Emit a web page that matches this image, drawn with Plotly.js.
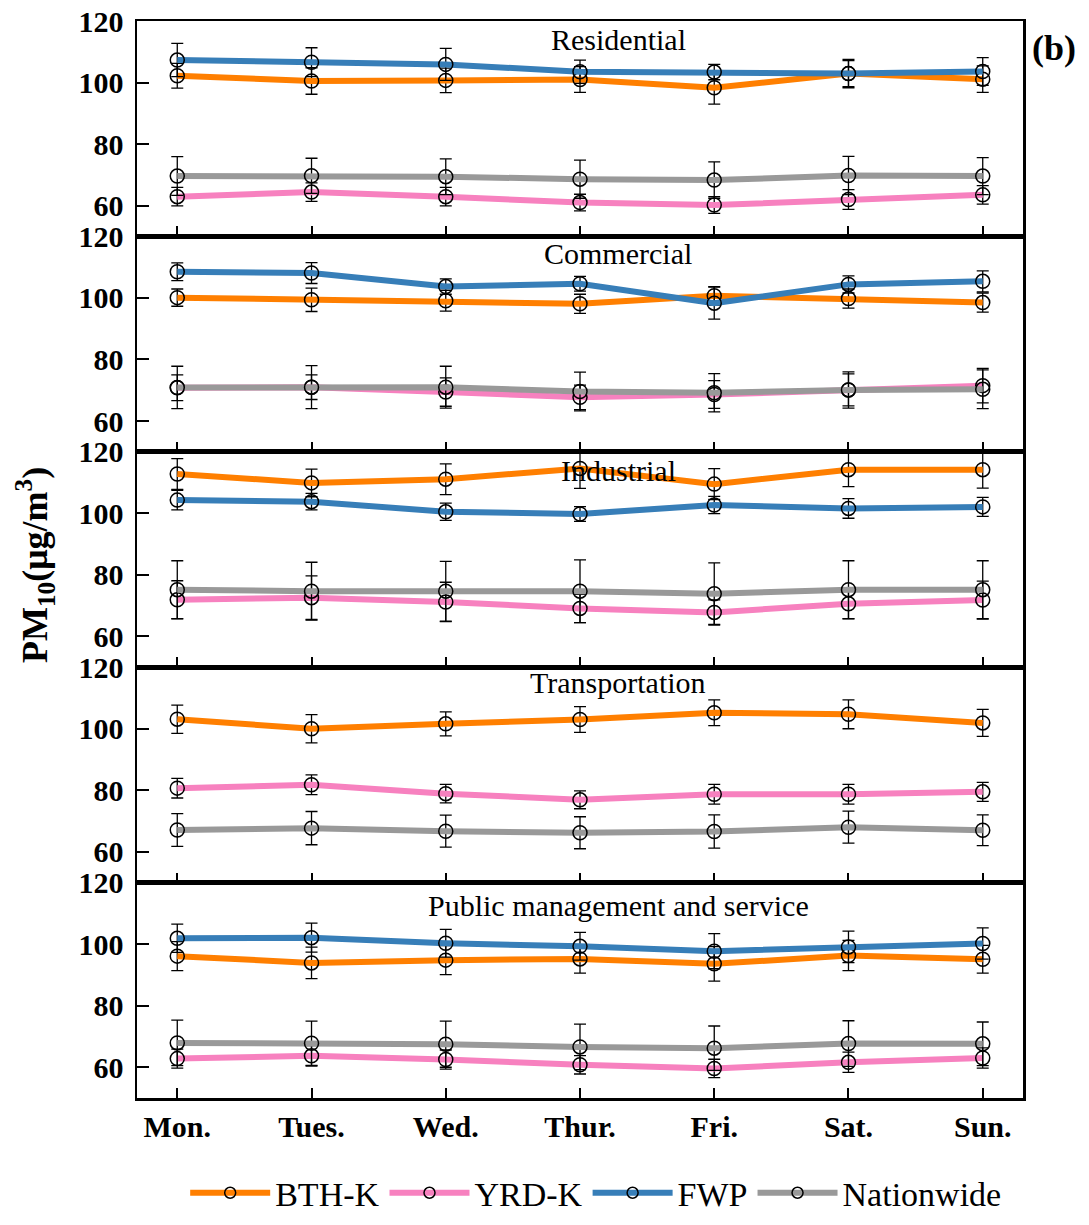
<!DOCTYPE html>
<html>
<head>
<meta charset="utf-8">
<script src="https://cdn.plot.ly/plotly-3.0.1.min.js"></script>
<style>html,body{margin:0;padding:0;background:#fff;}#chart{width:1089px;height:1225px;}</style>
</head>
<body>
<div id="chart"></div>
<script>
const days = ["Mon.", "Tues.", "Wed.", "Thur.", "Fri.", "Sat.", "Sun."];
const panelNames = ["Residential", "Commercial", "Industrial", "Transportation", "Public management and service"];
const seriesNames = ["BTH-K", "YRD-K", "FWP", "Nationwide"];

// Residential
const BTH_res = [102.2, 100.5, 100.7, 101.0, 98.3, 102.9, 101.1];
const BTH_res_err = [4.0, 4.3, 4.0, 4.2, 5.3, 4.6, 4.3];
const YRD_res = [62.9, 64.4, 62.9, 61.0, 60.2, 62.0, 63.5];
const YRD_res_err = [3.0, 3.0, 3.0, 2.7, 2.7, 3.2, 3.0];
const FWP_res = [107.3, 106.6, 105.9, 103.5, 103.4, 102.9, 103.6];
const FWP_res_err = [5.4, 4.7, 5.2, 3.8, 2.5, 4.2, 4.5];
const NAT_res = [69.6, 69.7, 69.4, 68.6, 68.3, 69.8, 69.6];
const NAT_res_err = [6.3, 5.7, 5.8, 6.2, 5.9, 6.2, 6.0];

// Commercial
const BTH_com = [100.1, 99.4, 99.1, 98.1, 100.7, 99.8, 98.5];
const BTH_com_err = [2.8, 3.8, 3.4, 3.1, 3.0, 3.1, 3.1];
const YRD_com = [70.8, 71.0, 69.4, 67.7, 68.6, 70.1, 71.5];
const YRD_com_err = [4.2, 4.0, 4.6, 4.0, 4.5, 5.2, 5.6];
const FWP_com = [108.5, 108.1, 103.7, 104.6, 98.3, 104.4, 105.4];
const FWP_com_err = [2.9, 3.4, 2.5, 2.4, 5.2, 2.8, 3.4];
const NAT_com = [70.9, 71.0, 71.0, 69.6, 69.2, 70.1, 70.3];
const NAT_com_err = [6.9, 7.0, 6.8, 6.3, 6.2, 5.9, 6.3];

// Industrial
const BTH_ind = [112.8, 109.9, 111.1, 114.6, 109.5, 114.2, 114.2];
const BTH_ind_err = [5.0, 4.5, 5.0, 6.5, 5.0, 5.5, 6.0];
const YRD_ind = [71.9, 72.6, 71.2, 69.1, 67.8, 70.6, 71.8];
const YRD_ind_err = [6.2, 7.1, 6.4, 4.6, 4.1, 4.9, 6.2];
const FWP_ind = [104.3, 103.8, 100.5, 99.8, 102.7, 101.6, 102.1];
const FWP_ind_err = [3.2, 2.7, 2.8, 2.4, 2.8, 3.2, 3.1];
const NAT_ind = [75.2, 74.7, 74.7, 74.7, 73.9, 75.2, 75.2];
const NAT_ind_err = [9.4, 9.4, 9.7, 10.2, 10.0, 9.4, 9.4];

// Transportation (no FWP series)
const BTH_tra = [103.1, 100.0, 101.6, 103.0, 105.2, 104.7, 101.9];
const BTH_tra_err = [4.6, 4.6, 3.9, 4.2, 4.2, 4.7, 4.4];
const YRD_tra = [80.7, 81.8, 78.9, 76.9, 78.7, 78.7, 79.5];
const YRD_tra_err = [3.2, 3.2, 3.0, 2.9, 3.2, 3.2, 3.1];
const NAT_tra = [67.1, 67.7, 66.7, 66.2, 66.6, 68.0, 67.0];
const NAT_tra_err = [5.3, 5.4, 5.2, 5.2, 5.4, 5.2, 5.0];

// Public management and service
const BTH_pub = [96.1, 93.9, 94.8, 95.2, 93.6, 96.3, 95.1];
const BTH_pub_err = [4.7, 5.1, 4.7, 4.6, 5.6, 4.9, 4.5];
const YRD_pub = [62.8, 63.7, 62.5, 60.8, 59.6, 61.6, 63.0];
const YRD_pub_err = [3.1, 3.3, 3.1, 3.0, 3.0, 3.3, 3.3];
const FWP_pub = [101.9, 102.1, 100.3, 99.3, 97.7, 99.1, 100.2];
const FWP_pub_err = [4.6, 4.7, 4.5, 4.5, 5.7, 5.1, 5.1];
const NAT_pub = [67.9, 67.8, 67.5, 66.6, 66.2, 67.7, 67.6];
const NAT_pub_err = [7.4, 7.2, 7.5, 7.4, 7.2, 7.4, 7.1];

const yTicks = [60, 80, 100, 120];

const colors = ["#ff7f00", "#f781bf", "#377eb8", "#999999"];
const panels = [
  [[BTH_res, BTH_res_err], [YRD_res, YRD_res_err], [FWP_res, FWP_res_err], [NAT_res, NAT_res_err]],
  [[BTH_com, BTH_com_err], [YRD_com, YRD_com_err], [FWP_com, FWP_com_err], [NAT_com, NAT_com_err]],
  [[BTH_ind, BTH_ind_err], [YRD_ind, YRD_ind_err], [FWP_ind, FWP_ind_err], [NAT_ind, NAT_ind_err]],
  [[BTH_tra, BTH_tra_err], [YRD_tra, YRD_tra_err], null, [NAT_tra, NAT_tra_err]],
  [[BTH_pub, BTH_pub_err], [YRD_pub, YRD_pub_err], [FWP_pub, FWP_pub_err], [NAT_pub, NAT_pub_err]]
];

const FONT = "'Liberation Serif', 'Times New Roman', Times, serif";
const traces = [];
const layout = {
  width: 1089, height: 1225,
  margin: {l: 137, r: 66, t: 21, b: 127, autoexpand: false},
  paper_bgcolor: "#fff", plot_bgcolor: "#fff",
  font: {family: FONT, color: "#000"},
  showlegend: true,
  legend: {
    orientation: "h", xref: "container", yref: "container",
    x: 0.547, xanchor: "center", y: 0.026, yanchor: "middle",
    font: {family: FONT, size: 34, color: "#000"},
    itemwidth: 80, tracegroupgap: 0, bgcolor: "rgba(0,0,0,0)"
  },
  annotations: []
};

const H = 1077, bottomPx = 1098;
const titleY = [40, 253, 470, 682, 905];

panels.forEach((series, p) => {
  const suf = p === 0 ? "" : String(p + 1);
  const xa = "x" + suf, ya = "y" + suf;
  series.forEach((s, k) => {
    if (!s) return;
    traces.push({
      type: "scatter", mode: "lines+markers",
      x: days, y: s[0], xaxis: xa, yaxis: ya,
      showlegend: false,
      line: {color: colors[k], width: 6},
      marker: {symbol: "circle-open", size: 14, color: "#000", line: {width: 1.5, color: "#000"}},
      error_y: {type: "data", array: s[1], visible: true, color: "#000", thickness: 1.3, width: 6},
      cliponaxis: false
    });
  });
  const dom = [1 - (p + 1) * 0.2, 1 - p * 0.2];
  layout["xaxis" + suf] = {
    type: "category", range: [-0.3, 6.3], anchor: ya, domain: [0, 1],
    showline: true, mirror: true, linecolor: "#000", linewidth: 2.5,
    ticks: "inside", ticklen: 10, tickwidth: 2, tickcolor: "#000",
    showgrid: false, zeroline: false,
    showticklabels: p === 4,
    tickfont: {family: FONT, size: 30, color: "#000"},
    ticklabelstandoff: 0,
    tickvals: days, ticktext: days.map(d => "<b>" + d + "</b>")
  };
  if (p !== 0) layout["xaxis" + suf].matches = "x";
  layout["yaxis" + suf] = {
    domain: dom, anchor: xa, range: [50, 120],
    tickvals: yTicks, ticktext: yTicks.map(v => "<b>" + v + "</b>"),
    showline: true, mirror: true, linecolor: "#000", linewidth: 2.5,
    ticks: "inside", ticklen: 12, tickwidth: 2, tickcolor: "#000",
    showgrid: false, zeroline: false,
    tickfont: {family: FONT, size: 30, color: "#000"},
    ticklabelstandoff: 5
  };
  layout.annotations.push({
    text: panelNames[p], xref: "paper", yref: "paper",
    x: (618 - 137) / 886, y: (bottomPx - titleY[p]) / H,
    xanchor: "center", yanchor: "middle", showarrow: false,
    font: {family: FONT, size: 30, color: "#000"}
  });
});

// legend-only traces
seriesNames.forEach((n, k) => {
  traces.push({
    type: "scatter", mode: "lines+markers", name: n,
    x: [days[0]], y: [null], xaxis: "x", yaxis: "y",
    showlegend: true,
    line: {color: colors[k], width: 6},
    marker: {symbol: "circle-open", size: 11, color: "#000", line: {width: 1.5, color: "#000"}}
  });
});

layout.annotations.push({
  text: "<b>PM<sub>10</sub>(μg/m<sup>3</sup>)</b>", xref: "paper", yref: "paper",
  x: (35 - 137) / 886, y: (bottomPx - 565) / H, textangle: -90,
  xanchor: "center", yanchor: "middle", showarrow: false,
  font: {family: FONT, size: 36, color: "#000"}
});
layout.annotations.push({
  text: "<b>(b)</b>", xref: "paper", yref: "paper",
  x: (1054 - 137) / 886, y: (bottomPx - 48) / H,
  xanchor: "center", yanchor: "middle", showarrow: false,
  font: {family: FONT, size: 36, color: "#000"}
});

Plotly.newPlot("chart", traces, layout, {staticPlot: true, displayModeBar: false});
</script>
</body>
</html>
